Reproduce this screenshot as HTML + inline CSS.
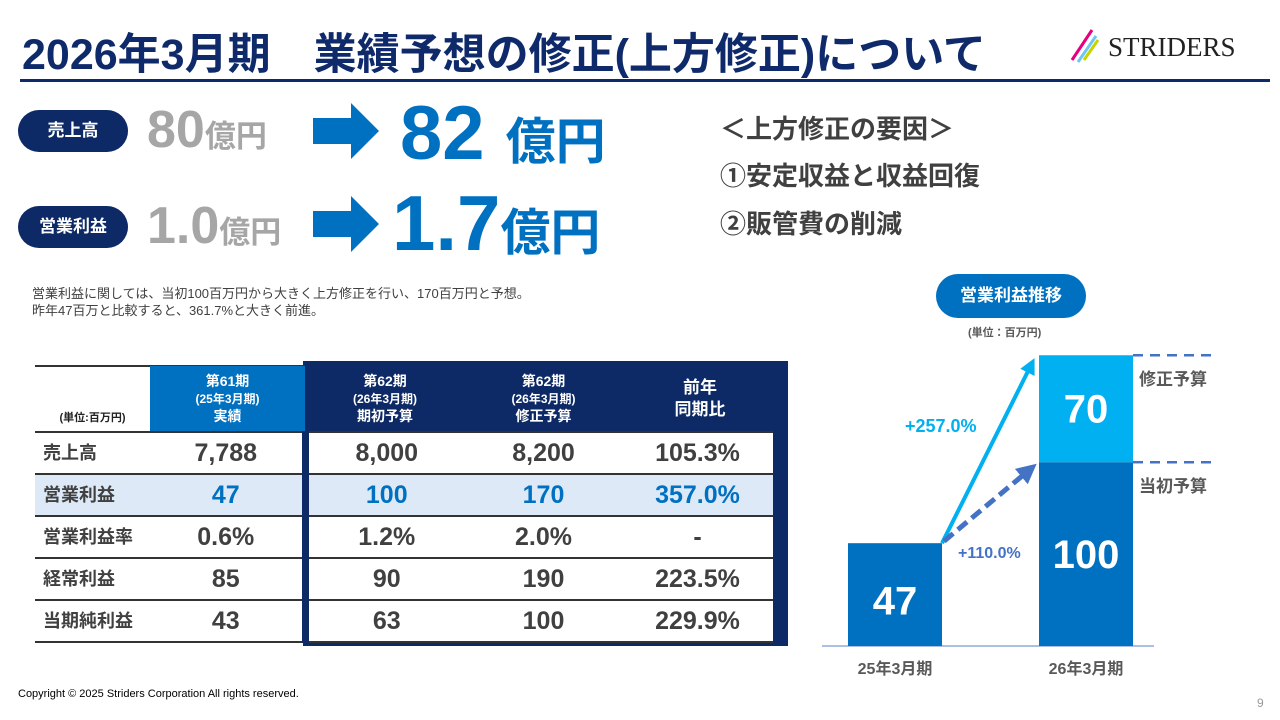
<!DOCTYPE html>
<html><head><meta charset="utf-8">
<style>
body{margin:0;width:1280px;height:720px;background:#fff;position:relative;overflow:hidden;font-family:"Liberation Sans","Noto Sans CJK JP",sans-serif;}
.a{position:absolute;white-space:nowrap}
.pill{position:absolute;background:#0d2a66;color:#fff;border-radius:22px;font-weight:bold;font-size:17px;text-align:center;line-height:42px;width:110px;height:42px;left:18px}
.gray{color:#a6a6a6;font-weight:bold}
.blue{color:#0070c0;font-weight:bold}
.rsn{font-size:26px;font-weight:bold;color:#404040}
table{position:absolute;left:35px;top:366px;border-collapse:collapse;font-family:"Liberation Sans","Noto Sans CJK JP",sans-serif}
td{padding:0;text-align:center;color:#404040;font-weight:bold;font-size:25px;border-bottom:2px solid #333}
td.l{text-align:left;font-size:18px;padding-left:8px;vertical-align:top;padding-top:6px}
td.c2{border-left:7px solid #0d2a66}
td.c5{border-right:10px solid #0d2a66}
tr.h td{font-size:14px;line-height:17px;color:#fff;border-bottom:2px solid #333}
</style></head><body>
<div class="a" style="left:22px;top:20px;font-size:43px;font-weight:bold;color:#0f2a6b">2026年3月期　業績予想の修正(上方修正)について</div>
<div class="a" style="left:1068px;top:28px;width:200px;height:40px">
<svg width="40" height="40" style="position:absolute;left:0;top:0"><line x1="4" y1="32" x2="24" y2="2" stroke="#e4007f" stroke-width="3"/><line x1="10" y1="34" x2="28" y2="8" stroke="#6fc6ee" stroke-width="3"/><line x1="16" y1="32" x2="30" y2="12" stroke="#c8d400" stroke-width="3"/></svg>
<span style="position:absolute;left:40px;top:4px;font-family:'Liberation Serif',serif;font-size:27px;color:#222">STRIDERS</span></div>
<div class="a" style="left:20px;top:79px;width:1250px;height:3px;background:#0f2a6b"></div>

<div class="pill" style="top:110px">売上高</div>
<div class="pill" style="top:206px">営業利益</div>
<div class="a gray" style="left:147px;top:100px;font-size:52px">80<span style="font-size:31px">億円</span></div>
<div class="a gray" style="left:147px;top:196px;font-size:52px">1.0<span style="font-size:31px">億円</span></div>
<svg class="a" style="left:313px;top:103px" width="66" height="56"><polygon points="0,15 38,15 38,0 66,28 38,56 38,41 0,41" fill="#0070c0"/></svg>
<svg class="a" style="left:313px;top:196px" width="66" height="56"><polygon points="0,15 38,15 38,0 66,28 38,56 38,41 0,41" fill="#0070c0"/></svg>
<div class="a blue" style="left:400px;top:90px;font-size:76px">82 <span style="font-size:50px">億円</span></div>
<div class="a blue" style="left:392px;top:178px;font-size:78px">1.7<span style="font-size:50px">億円</span></div>

<div class="a rsn" style="left:720px;top:109px">＜上方修正の要因＞</div>
<div class="a rsn" style="left:720px;top:156px">①安定収益と収益回復</div>
<div class="a rsn" style="left:720px;top:204px">②販管費の削減</div>
<div class="a" style="left:32px;top:285px;font-size:13px;line-height:17px;color:#404040">営業利益に関しては、当初100百万円から大きく上方修正を行い、170百万円と予想。<br>昨年47百万と比較すると、361.7%と大きく前進。</div>

<div class="a" style="left:303px;top:361px;width:485px;height:285px;background:#0d2a66"></div>
<div class="a" style="left:35px;top:365px;width:270px;height:2px;background:#333"></div>
<table>
<tr class="h" style="height:66px"><td style="width:115px;color:#222;font-size:11px;vertical-align:bottom;padding-bottom:4px">(単位:百万円)</td>
<td style="width:155px;background:#0070c0">第61期<br><span style="font-size:12px">(25年3月期)</span><br>実績</td>
<td style="width:160px">第62期<br><span style="font-size:12px">(26年3月期)</span><br>期初予算</td>
<td style="width:157px">第62期<br><span style="font-size:12px">(26年3月期)</span><br>修正予算</td>
<td style="width:156px;font-size:17px;line-height:22px">前年<br>同期比</td></tr>
<tr style="height:42px"><td class="l">売上高</td><td>7,788</td><td class="c2" style="background:#fff">8,000</td><td style="background:#fff">8,200</td><td class="c5" style="background:#fff">105.3%</td></tr>
<tr style="height:42px;background:#dde9f6"><td class="l">営業利益</td><td style="color:#0070c0">47</td><td class="c2" style="color:#0070c0">100</td><td style="color:#0070c0">170</td><td class="c5" style="color:#0070c0">357.0%</td></tr>
<tr style="height:42px"><td class="l">営業利益率</td><td>0.6%</td><td class="c2" style="background:#fff">1.2%</td><td style="background:#fff">2.0%</td><td class="c5" style="background:#fff">-</td></tr>
<tr style="height:42px"><td class="l">経常利益</td><td>85</td><td class="c2" style="background:#fff">90</td><td style="background:#fff">190</td><td class="c5" style="background:#fff">223.5%</td></tr>
<tr style="height:42px"><td class="l">当期純利益</td><td>43</td><td class="c2" style="background:#fff">63</td><td style="background:#fff">100</td><td class="c5" style="background:#fff">229.9%</td></tr>
</table>

<div class="a" style="left:936px;top:274px;width:150px;height:44px;border-radius:22px;background:#0070c0;color:#fff;font-weight:bold;font-size:17px;text-align:center;line-height:44px">営業利益推移</div>
<div class="a" style="left:968px;top:324px;font-size:11px;font-weight:bold;color:#595959">(単位：百万円)</div>
<svg id="chart" class="a" style="left:0;top:0" width="1280" height="720"></svg>

<div class="a" style="left:18px;top:688px;font-size:11px;color:#000">Copyright © 2025 Striders Corporation All rights reserved.</div>
<div class="a" style="left:1257px;top:696px;font-size:12px;color:#999">9</div>

<script>
const categories=["25年3月期","26年3月期"];
const baseValues=[47,100];
const revisionValues=[0,70];
const growthLabels=["+257.0%","+110.0%"];
const NS="http://www.w3.org/2000/svg";
const svg=document.getElementById('chart');
const base=646;
function y(v){return base-(v===0?0:31+1.528*v);}
function x(i){return 848+i*191;}
const bw=94;
function mk(t,attrs,parent){const e=document.createElementNS(NS,t);for(const k in attrs)e.setAttribute(k,attrs[k]);(parent||svg).appendChild(e);return e;}
const defs=mk('defs',{});
const m1=mk('marker',{id:'ah1',markerWidth:'4',markerHeight:'4',refX:'2',refY:'2',orient:'auto'},defs);mk('path',{d:'M0,0 L4,2 L0,4 Z',fill:'#00b0f0'},m1);
const m2=mk('marker',{id:'ah2',markerWidth:'4',markerHeight:'4',refX:'2',refY:'2',orient:'auto'},defs);mk('path',{d:'M0,0 L4,2 L0,4 Z',fill:'#4472c4'},m2);
const ax=mk('line',{x1:822,x2:1154,y1:base,y2:base,stroke:'#8faadc','stroke-width':1.5});


categories.forEach((c,i)=>{
  const tot=baseValues[i]+revisionValues[i];
  const r=mk('rect',{x:x(i),y:y(baseValues[i]),width:bw,height:base-y(baseValues[i]),fill:'#0070c0'});
  
  
  const t=mk('text',{x:x(i)+bw/2,y:(y(baseValues[i])+base)/2+(i?0:20)+(i?14:0),'text-anchor':'middle',fill:'#fff','font-size':40,'font-weight':'bold','font-family':'Liberation Sans'});t.textContent=baseValues[i];
  
  
  if(revisionValues[i]>0){
    const r2=mk('rect',{x:x(i),y:y(tot),width:bw,height:y(baseValues[i])-y(tot),fill:'#00b0f0'});
    
    
    const t2=mk('text',{x:x(i)+bw/2,y:(y(tot)+y(baseValues[i]))/2+14,'text-anchor':'middle',fill:'#fff','font-size':40,'font-weight':'bold','font-family':'Liberation Sans'});t2.textContent=revisionValues[i];
    
    
    [tot,baseValues[i]].forEach((v,k)=>{const l=mk('line',{x1:x(i)+bw,x2:x(i)+bw+85,y1:y(v),y2:y(v),stroke:'#4472c4','stroke-width':2.5,'stroke-dasharray':'10,7'});
      
      });
    const a=mk('text',{x:x(i)+bw+6,y:y(tot)+30,fill:'#595959','font-size':17,'font-weight':'bold','font-family':'Noto Sans CJK JP'});a.textContent='修正予算';
    
    
    const b=mk('text',{x:x(i)+bw+6,y:y(baseValues[i])+30,fill:'#595959','font-size':17,'font-weight':'bold','font-family':'Noto Sans CJK JP'});b.textContent='当初予算';
    
    
  }
  const lab=mk('text',{x:x(i)+bw/2,y:base+28,'text-anchor':'middle',fill:'#595959','font-size':16,'font-weight':'bold','font-family':'Liberation Sans, Noto Sans CJK JP'});lab.textContent=c;
  
  
});
const sx=x(0)+bw, sy=y(baseValues[0]);
const a1=mk('line',{x1:sx,y1:sy,x2:x(1)-8,y2:y(baseValues[1]+revisionValues[1])+10,stroke:'#00b0f0','stroke-width':4,'marker-end':'url(#ah1)'});


const a2=mk('line',{x1:sx+2,y1:sy-2,x2:x(1)-10,y2:y(baseValues[1])+8,stroke:'#4472c4','stroke-width':5,'stroke-dasharray':'12,6','marker-end':'url(#ah2)'});


const g1=mk('text',{x:905,y:432,fill:'#00b0f0','font-size':18,'font-weight':'bold','font-family':'Liberation Sans'});g1.textContent=growthLabels[0];


const g2=mk('text',{x:958,y:558,fill:'#4472c4','font-size':16,'font-weight':'bold','font-family':'Liberation Sans'});g2.textContent=growthLabels[1];


</script>
</body></html>
